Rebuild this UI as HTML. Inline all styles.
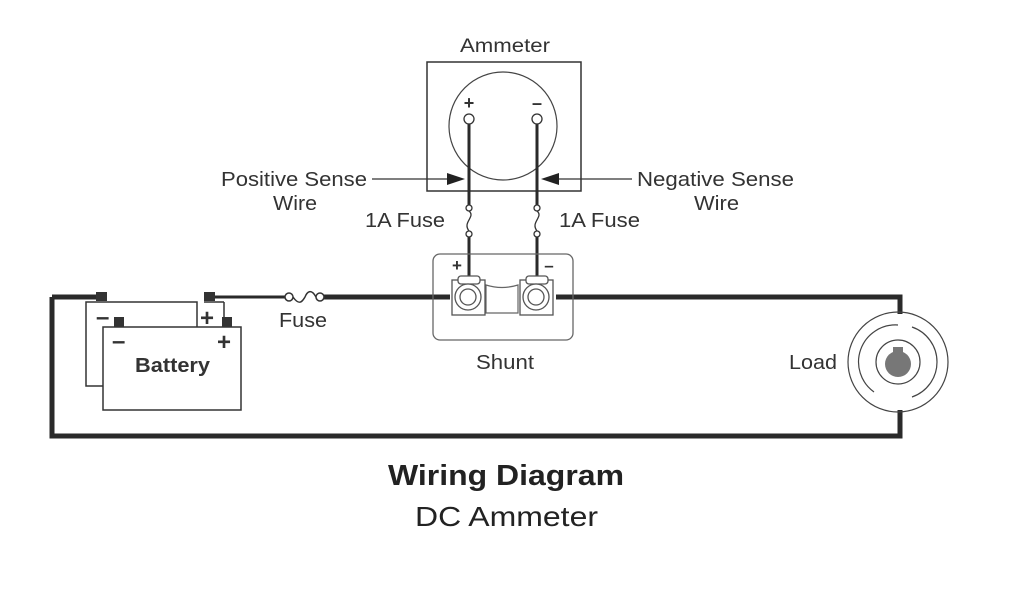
<!DOCTYPE html>
<html><head><style>body{margin:0;background:#fff}svg{display:block}text{font-family:"Liberation Sans",sans-serif;fill:#333}</style></head><body>
<svg width="1024" height="600" viewBox="0 0 1024 600">
<rect width="1024" height="600" fill="#fff"/>
<g stroke="#2a2a2a" stroke-width="5" fill="none">
<polyline points="52,297 52,436 900,436 900,410"/>
<polyline points="900,314 900,297 556,297"/>
<line x1="450" y1="297" x2="322" y2="297"/>
<line x1="52" y1="297" x2="100" y2="297"/>
</g>
<line x1="212" y1="297" x2="287" y2="297" stroke="#2a2a2a" stroke-width="3"/>
<g stroke="#333" stroke-width="1.5" fill="#fff">
<circle cx="289" cy="297" r="4"/><circle cx="320" cy="297" r="4"/>
<path d="M293,297 C300,307 303,300 305,297 C307,292 311,288 316,297" fill="none"/>
</g>
<text x="279" y="327" font-size="20" textLength="48" lengthAdjust="spacingAndGlyphs">Fuse</text>
<rect x="86" y="302" width="111" height="84" fill="#fff" stroke="#333" stroke-width="1.5"/>
<rect x="96" y="292" width="11" height="9" fill="#333"/>
<rect x="204" y="292" width="11" height="9" fill="#333"/>
<line x1="204" y1="302" x2="224" y2="302" stroke="#333" stroke-width="1.5"/>
<line x1="224" y1="302" x2="224" y2="318" stroke="#333" stroke-width="1.5"/>
<rect x="103" y="327" width="138" height="83" fill="#fff" stroke="#333" stroke-width="1.5"/>
<rect x="114" y="317" width="10" height="10" fill="#333"/>
<rect x="222" y="317" width="10" height="10" fill="#333"/>
<text x="96" y="325" font-size="24" font-weight="bold">–</text>
<text x="200" y="326" font-size="24" font-weight="bold">+</text>
<text x="112" y="349" font-size="24" font-weight="bold">–</text>
<text x="217" y="350" font-size="24" font-weight="bold">+</text>
<text x="135" y="372" font-size="20" font-weight="bold" textLength="75" lengthAdjust="spacingAndGlyphs">Battery</text>
<text x="460" y="52" font-size="19" textLength="90" lengthAdjust="spacingAndGlyphs">Ammeter</text>
<rect x="427" y="62" width="154" height="129" fill="none" stroke="#333" stroke-width="1.5"/>
<circle cx="503" cy="126" r="54" fill="none" stroke="#444" stroke-width="1.2"/>
<text x="469" y="109" font-size="18" font-weight="bold" text-anchor="middle">+</text>
<text x="537" y="109" font-size="18" font-weight="bold" text-anchor="middle">–</text>
<g stroke="#2a2a2a" stroke-width="3">
<line x1="469" y1="124" x2="469" y2="206"/><line x1="537" y1="124" x2="537" y2="206"/>
<line x1="469" y1="236" x2="469" y2="278"/><line x1="537" y1="236" x2="537" y2="278"/>
</g>
<g stroke="#333" stroke-width="1.3" fill="#fff">
<circle cx="469" cy="119" r="5"/><circle cx="537" cy="119" r="5"/>
<circle cx="469" cy="208" r="3"/><circle cx="469" cy="234" r="3"/>
<circle cx="537" cy="208" r="3"/><circle cx="537" cy="234" r="3"/>
<path d="M469,211 C476,217 462,222 469,231" fill="none"/>
<path d="M537,211 C544,217 530,222 537,231" fill="none"/>
</g>
<line x1="372" y1="179" x2="450" y2="179" stroke="#333" stroke-width="1.3"/>
<polygon points="465,179 447,173 447,185" fill="#222"/>
<line x1="556" y1="179" x2="632" y2="179" stroke="#333" stroke-width="1.3"/>
<polygon points="541,179 559,173 559,185" fill="#222"/>
<text x="221" y="186" font-size="20" textLength="146" lengthAdjust="spacingAndGlyphs">Positive Sense</text>
<text x="273" y="210" font-size="20" textLength="44" lengthAdjust="spacingAndGlyphs">Wire</text>
<text x="637" y="186" font-size="20" textLength="157" lengthAdjust="spacingAndGlyphs">Negative Sense</text>
<text x="694" y="210" font-size="20" textLength="45" lengthAdjust="spacingAndGlyphs">Wire</text>
<text x="365" y="227" font-size="20" textLength="80" lengthAdjust="spacingAndGlyphs">1A Fuse</text>
<text x="559" y="227" font-size="20" textLength="81" lengthAdjust="spacingAndGlyphs">1A Fuse</text>
<rect x="433" y="254" width="140" height="86" rx="7" fill="none" stroke="#666" stroke-width="1.3"/>
<text x="457" y="271" font-size="17" font-weight="bold" text-anchor="middle">+</text>
<text x="549" y="271" font-size="17" font-weight="bold" text-anchor="middle">–</text>
<path d="M486,285 Q502,290 518,285 L518,313 L486,313 Z" fill="#fff" stroke="#666" stroke-width="1.2"/>
<g stroke="#555" stroke-width="1.3" fill="#fff">
<rect x="452" y="280" width="33" height="35"/><rect x="520" y="280" width="33" height="35"/>
<rect x="458" y="276" width="22" height="8" rx="3"/><rect x="526" y="276" width="22" height="8" rx="3"/>
<circle cx="468" cy="297" r="13"/><circle cx="468" cy="297" r="8"/>
<circle cx="536" cy="297" r="13"/><circle cx="536" cy="297" r="8"/>
</g>
<text x="476" y="369" font-size="20" textLength="58" lengthAdjust="spacingAndGlyphs">Shunt</text>
<text x="789" y="369" font-size="20" textLength="48" lengthAdjust="spacingAndGlyphs">Load</text>
<g fill="none" stroke="#444" stroke-width="1.2">
<circle cx="898" cy="362" r="50"/>
<path d="M912,327 A37,37 0 0 1 912,397"/>
<path d="M898,325 A37,37 0 0 0 874,392"/>
<circle cx="898" cy="362" r="22"/>
</g>
<circle cx="898" cy="364" r="13" fill="#777"/>
<rect x="893" y="347" width="10" height="8" fill="#777"/>
<text x="388" y="485" font-size="29" font-weight="bold" textLength="236" lengthAdjust="spacingAndGlyphs" style="fill:#222">Wiring Diagram</text>
<text x="415" y="526" font-size="28" textLength="183" lengthAdjust="spacingAndGlyphs" style="fill:#222">DC Ammeter</text>
</svg>
</body></html>
